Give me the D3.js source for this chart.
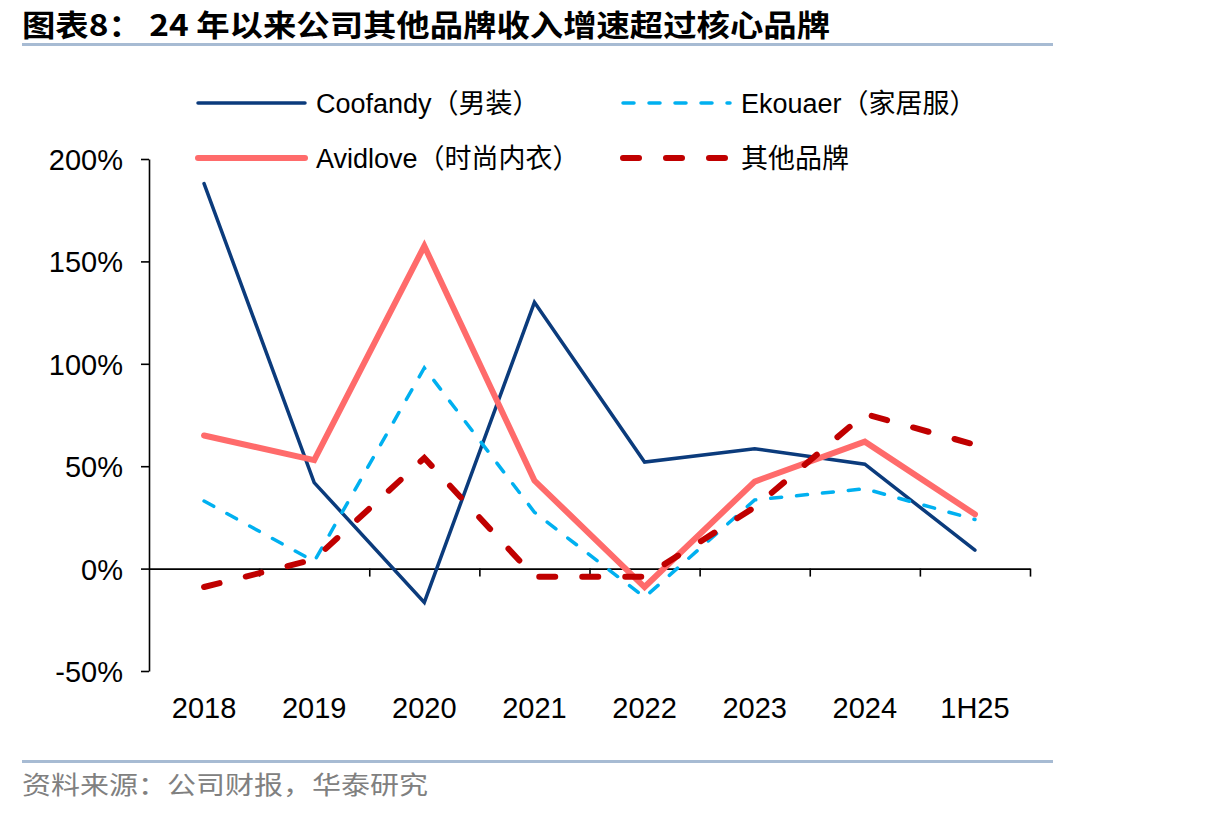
<!DOCTYPE html>
<html>
<head>
<meta charset="utf-8">
<script src="https://cdn.jsdelivr.net/npm/d3@7"></script>
<style>
  html, body { margin: 0; padding: 0; background: #fff; }
  svg { display: block; }
  .axis text { font-family: "Liberation Sans", Arial, sans-serif; font-size: 29px; fill: #000; }
  .axis path, .axis line { stroke: #000; stroke-width: 1.6; }
</style>
</head>
<body>
<svg id="chart" width="1206" height="816"></svg>
<script>
// Revenue growth by brand, 2018 - 1H25 (values in %)
const categories = ["2018", "2019", "2020", "2021", "2022", "2023", "2024", "1H25"];
const coofandy = [188, 42, -16.5, 130, 52, 58.5, 51, 9];
const ekouaer = [33, 3.5, 98, 27.5, -14, 33.5, 39, 24];
const avidlove = [65, 53, 157.5, 43, -9, 42.5, 62, 26.5];
const others = [-9, 4.5, 54, -4, -4, 30, 75.5, 60.5];
const yTicks = [-50, 0, 50, 100, 150, 200];
const seriesNames = ["Coofandy（男装）", "Ekouaer（家居服）", "Avidlove（时尚内衣）", "其他品牌"];

const title = "图表8： 24 年以来公司其他品牌收入增速超过核心品牌";
const source = "资料来源：公司财报，华泰研究";

const series = [
  { name: seriesNames[0], values: coofandy, color: "#0b3b7c", width: 3.5, dash: null, cap: "round" },
  { name: seriesNames[1], values: ekouaer, color: "#00b0f0", width: 3.5, dash: "11,15", cap: "round" },
  { name: seriesNames[2], values: avidlove, color: "#ff6b6b", width: 6, dash: null, cap: "round" },
  { name: seriesNames[3], values: others, color: "#c00000", width: 6, dash: "16,27", cap: "round" }
];

const svg = d3.select("#chart");
const cjk = "'Liberation Sans', Arial, 'Noto Sans CJK SC', sans-serif";

// header + footer
svg.append("text").attr("x", 22).attr("y", 36)
  .attr("font-family", "'Noto Sans CJK SC', sans-serif").attr("font-weight", 700)
  .attr("font-size", 30).attr("textLength", 808).attr("lengthAdjust", "spacingAndGlyphs")
  .text(title);
svg.append("rect").attr("x", 22).attr("y", 43).attr("width", 1031).attr("height", 3).attr("fill", "#a7bbd3");
svg.append("rect").attr("x", 22).attr("y", 760).attr("width", 1031).attr("height", 3).attr("fill", "#a7bbd3");
svg.append("text").attr("x", 22).attr("y", 794)
  .attr("font-family", "'Noto Sans CJK SC', sans-serif").attr("font-size", 25).attr("fill", "#808080")
  .attr("textLength", 406).attr("lengthAdjust", "spacingAndGlyphs")
  .text(source);

// scales
const plotL = 149, plotR = 1030, plotT = 159, plotB = 671;
const x = d3.scaleBand().domain(categories).range([plotL, plotR]).padding(0);
const xb = d3.scaleLinear().domain([0, categories.length]).range([plotL, plotR]);
const y = d3.scaleLinear().domain([-50, 200]).range([plotB, plotT]);
const cx = c => x(c) + x.bandwidth() / 2;

// y axis
svg.append("g").attr("class", "axis").attr("transform", `translate(${plotL},0)`)
  .call(d3.axisLeft(y).tickValues(yTicks).tickSize(8).tickPadding(18).tickSizeOuter(0).tickFormat(d => d + "%"))
  .call(g => g.selectAll("text").attr("dy", "0.36em"));

// x axis at zero with boundary ticks
svg.append("g").attr("class", "axis").attr("transform", `translate(0,${y(0)})`)
  .call(d3.axisBottom(xb).tickValues(d3.range(1, categories.length + 1)).tickSize(8).tickSizeOuter(0).tickFormat(""));

// category labels below plot
svg.append("g").attr("class", "axis").attr("transform", `translate(0,689)`)
  .call(d3.axisBottom(x).tickSize(0).tickPadding(0))
  .call(g => g.select(".domain").remove())
  .call(g => g.selectAll("text").attr("dy", "0.71em").attr("y", 8));

// lines
const line = d3.line().x((d, i) => cx(categories[i])).y(d => y(d));
series.forEach(s => {
  svg.append("path").datum(s.values)
    .attr("fill", "none").attr("stroke", s.color).attr("stroke-width", s.width)
    .attr("stroke-linejoin", "miter").attr("stroke-linecap", s.cap)
    .attr("stroke-dasharray", s.dash).attr("d", line);
});

// legend
const legendPos = [[198, 103], [623, 103], [198, 158], [623, 158]];
series.forEach((s, i) => {
  const [lx, ly] = legendPos[i];
  svg.append("line").attr("x1", lx).attr("x2", lx + 107).attr("y1", ly).attr("y2", ly)
    .attr("stroke", s.color).attr("stroke-width", s.width).attr("stroke-linecap", s.cap)
    .attr("stroke-dasharray", s.dash);
  svg.append("text").attr("x", lx + 118).attr("y", ly + 10)
    .attr("font-family", cjk).attr("font-size", 27).attr("fill", "#000").text(s.name);
});
</script>
</body>
</html>
